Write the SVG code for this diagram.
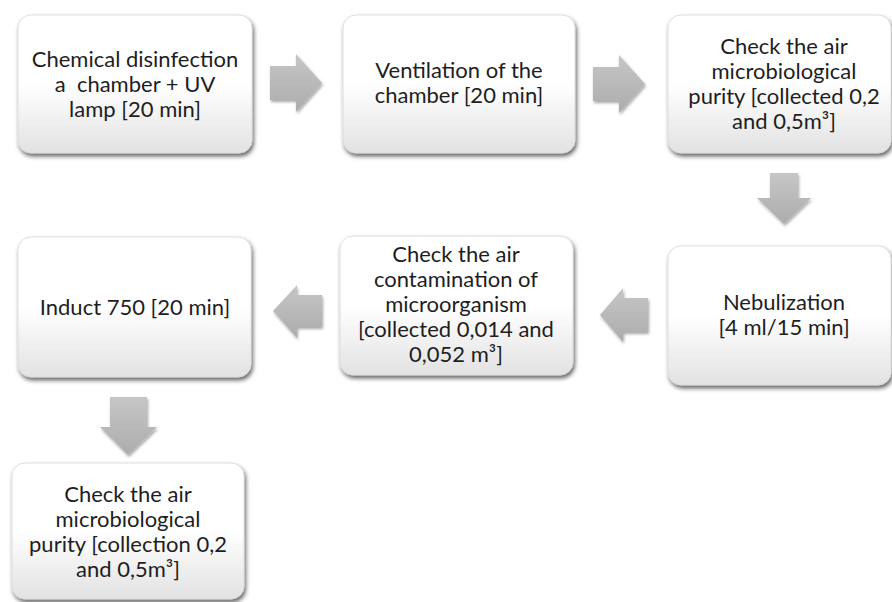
<svg xmlns="http://www.w3.org/2000/svg" width="892" height="602" viewBox="0 0 892 602">
<defs>
<linearGradient id="boxg" x1="0" y1="0" x2="0" y2="1">
<stop offset="0" stop-color="#ffffff"/>
<stop offset="0.5" stop-color="#ffffff"/>
<stop offset="1" stop-color="#e2e2e2"/>
</linearGradient>
<linearGradient id="arrg" x1="0" y1="0" x2="0" y2="1">
<stop offset="0" stop-color="#c6c6c6"/>
<stop offset="1" stop-color="#acacac"/>
</linearGradient>
<filter id="sh" x="-10%" y="-10%" width="125%" height="130%">
<feDropShadow dx="1.5" dy="3" stdDeviation="2" flood-color="#000" flood-opacity="0.6"/>
</filter>
<filter id="ash" x="-20%" y="-20%" width="150%" height="150%">
<feDropShadow dx="1" dy="2" stdDeviation="1.5" flood-color="#000" flood-opacity="0.35"/>
</filter>
</defs>
<style>
.box{fill:url(#boxg);stroke:#d8d8d8;stroke-width:0.8;filter:url(#sh)}
.arr{fill:url(#arrg);filter:url(#ash)}
text{font-family:Lato,"Liberation Sans",sans-serif;font-size:22px;fill:#1e1e1e;text-anchor:middle}
</style>
<rect width="892" height="602" fill="#ffffff"/>
<g id="connectors">
<path class="arr" d="M270,66 H296 V54 L322,83 L296,112 V100 H270 Z"/>
<path class="arr" d="M593,67 H619 V55 L645,84 L619,113 V101 H593 Z"/>
<path class="arr" d="M770,173 V198 H757 L784,224 L811,198 H798 V173 Z"/>
<path class="arr" d="M648,298 H623 V288 L600,315 L623,342 V332 H648 Z"/>
<path class="arr" d="M322,295 H297 V285 L273,311 L297,338 V327 H322 Z"/>
<path class="arr" d="M110,397 V427 H100 L128,455 L157,427 H147 V397 Z"/>
</g>
<g id="n1">
<rect class="box" x="18" y="15" width="234" height="138" rx="13"/>
<text x="135" y="67">Chemical disinfection</text>
<text x="135" y="92" xml:space="preserve">a  chamber + UV</text>
<text x="135" y="117">lamp [20 min]</text>
</g>
<g id="n2">
<rect class="box" x="343" y="15" width="232" height="138" rx="13"/>
<text x="459" y="78">Ventilation of the</text>
<text x="459" y="103">chamber [20 min]</text>
</g>
<g id="n3">
<rect class="box" x="668" y="15" width="223" height="138" rx="13"/>
<text x="784" y="54">Check the air</text>
<text x="784" y="79">microbiological</text>
<text x="784" y="104">purity [collected 0,2</text>
<text x="784" y="129">and 0,5m³]</text>
</g>
<g id="n4">
<rect class="box" x="668" y="246" width="223" height="139" rx="13"/>
<text x="784" y="310">Nebulization</text>
<text x="784" y="335">[4 ml/15 min]</text>
</g>
<g id="n5">
<rect class="box" x="340" y="236" width="233" height="139" rx="13"/>
<text x="456" y="262">Check the air</text>
<text x="456" y="287">contamination of</text>
<text x="456" y="312">microorganism</text>
<text x="456" y="337">[collected 0,014 and</text>
<text x="456" y="362">0,052 m³]</text>
</g>
<g id="n6">
<rect class="box" x="18" y="237" width="233" height="140" rx="13"/>
<text x="135" y="315">Induct 750 [20 min]</text>
</g>
<g id="n7">
<rect class="box" x="12" y="463" width="232" height="136" rx="13"/>
<text x="128" y="502">Check the air</text>
<text x="128" y="527">microbiological</text>
<text x="128" y="552">purity [collection 0,2</text>
<text x="128" y="577">and 0,5m³]</text>
</g>
</svg>
